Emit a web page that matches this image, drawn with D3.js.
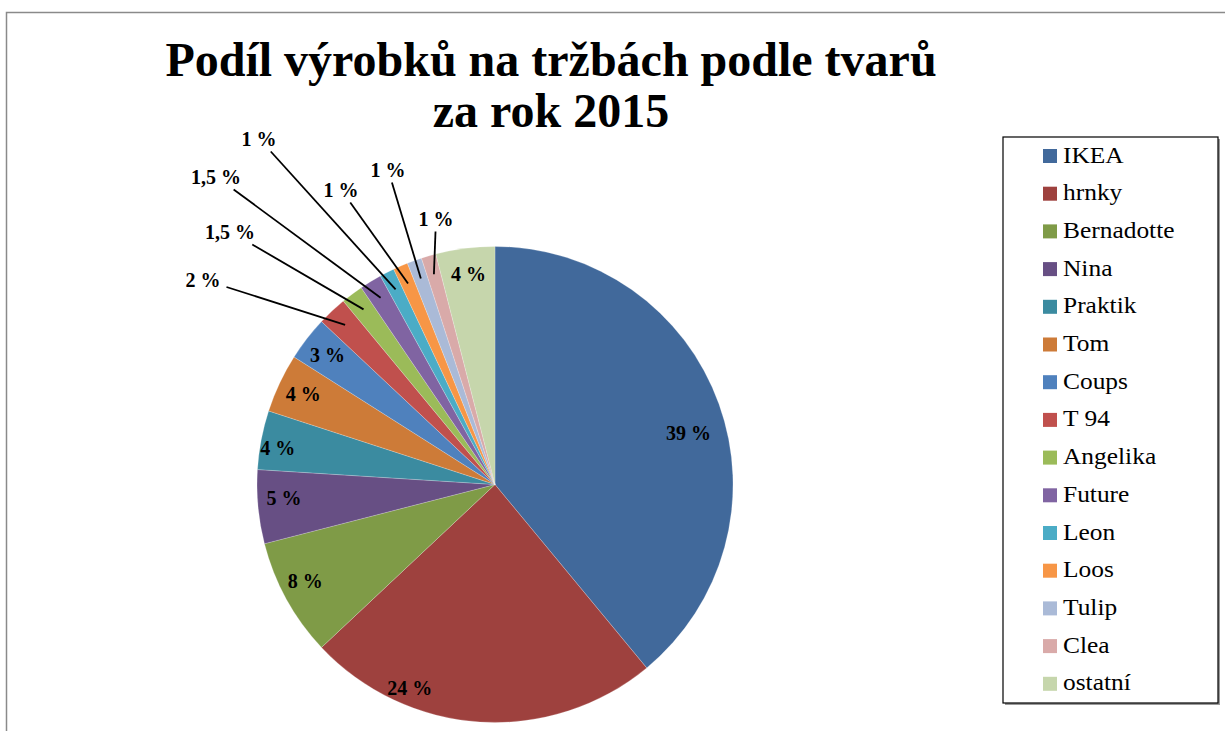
<!DOCTYPE html>
<html>
<head>
<meta charset="utf-8">
<script src="https://cdn.jsdelivr.net/npm/d3@7"></script>
<style>
  body { margin: 0; background: #fff; }
</style>
</head>
<body>
<div id="chart"></div>
<script>
var names  = ["IKEA", "hrnky", "Bernadotte", "Nina", "Praktik", "Tom", "Coups", "T 94",
              "Angelika", "Future", "Leon", "Loos", "Tulip", "Clea", "ostatní"];
var shares = [39, 24, 8, 5, 4, 4, 3, 2, 1.5, 1.5, 1, 1, 1, 1, 4];
var labels = ["39 %", "24 %", "8 %", "5 %", "4 %", "4 %", "3 %", "2 %",
              "1,5 %", "1,5 %", "1 %", "1 %", "1 %", "1 %", "4 %"];
var colors = ["#41699b", "#9e413e", "#7f9b47", "#674f84", "#3b8ba0", "#cd7b38", "#4f81bd", "#c0504d",
              "#9bbb59", "#8064a2", "#4bacc6", "#f79646", "#aabad7", "#d9aaa9", "#c6d6ac"];
var titleLines = ["Podíl výrobků na tržbách podle tvarů", "za rok 2015"];

// thin slices get their label pulled out (offset from pie centre, in px)
var callouts = {
  "T 94":     [-292, -205],
  "Angelika": [-265, -253],
  "Future":   [-279, -308],
  "Leon":     [-236, -346],
  "Loos":     [-154, -295],
  "Tulip":    [-107, -315],
  "Clea":     [-59,  -266]
};
// hand nudges for a few inside labels (Excel did not centre them)
var labelNudge = {
  "IKEA":       [-6, 20],
  "hrnky":      [-72, -8],
  "Bernadotte": [-4, -6],
  "Nina":       [0, -6],
  "Praktik":    [-9, 3]
};

var FONT = "'Liberation Serif'";
var W = 1225, H = 731;
var cx = 495, cy = 484.5, radius = 238;

var svg = d3.select("#chart").append("svg")
    .attr("width", W)
    .attr("height", H);

// chart area border (runs off the picture right and bottom)
svg.append("rect")
    .attr("x", 6.5).attr("y", 12.5)
    .attr("width", W + 20).attr("height", H + 20)
    .attr("fill", "#fff")
    .attr("stroke", "#8a8a8a")
    .attr("stroke-width", 1.5);

// title
svg.selectAll("text.title")
  .data(titleLines)
  .enter().append("text")
    .attr("class", "title")
    .attr("x", 551)
    .attr("y", function(d, i) { return 76 + i * 51; })
    .attr("text-anchor", "middle")
    .attr("font-family", FONT)
    .attr("font-size", 48)
    .attr("font-weight", "bold")
    .text(function(d) { return d; });

var data = names.map(function(n, i) {
  return { name: n, value: shares[i], label: labels[i], color: colors[i] };
});

var pie = d3.pie()
    .sort(null)
    .value(function(d) { return d.value; });

var arcs = pie(data);

var arc = d3.arc().innerRadius(0).outerRadius(radius);
var labelArc = d3.arc().innerRadius(212).outerRadius(212);
var pointArc = d3.arc().innerRadius(radius * 0.92).outerRadius(radius * 0.92);

var g = svg.append("g").attr("transform", "translate(" + cx + "," + cy + ")");

g.selectAll("path.slice")
  .data(arcs)
  .enter().append("path")
    .attr("class", "slice")
    .attr("d", arc)
    .attr("fill", function(d) { return d.data.color; })
    .attr("stroke", "#ffffff")
    .attr("stroke-opacity", 0.35)
    .attr("stroke-width", 0.6);

// labels inside the slices
g.selectAll("text.inside")
  .data(arcs.filter(function(d) { return !callouts[d.data.name]; }))
  .enter().append("text")
    .attr("class", "inside")
    .attr("transform", function(d) {
      var c = labelArc.centroid(d);
      var n = labelNudge[d.data.name] || [0, 0];
      return "translate(" + (c[0] + n[0]) + "," + (c[1] + n[1]) + ")";
    })
    .attr("text-anchor", "middle")
    .attr("dy", "0.35em")
    .attr("font-family", FONT)
    .attr("font-size", 20)
    .attr("font-weight", "bold")
    .text(function(d) { return d.data.label; });

// labels outside with leader lines
var outer = arcs.filter(function(d) { return callouts[d.data.name]; });

var outTexts = g.selectAll("text.outside")
  .data(outer)
  .enter().append("text")
    .attr("class", "outside")
    .attr("x", function(d) { return callouts[d.data.name][0]; })
    .attr("y", function(d) { return callouts[d.data.name][1]; })
    .attr("text-anchor", "middle")
    .attr("dy", "0.35em")
    .attr("font-family", FONT)
    .attr("font-size", 20)
    .attr("font-weight", "bold")
    .text(function(d) { return d.data.label; });

outTexts.each(function(d) {
  var bb = this.getBBox();
  var lx = bb.x + bb.width / 2, ly = bb.y + bb.height / 2;
  var end = pointArc.centroid(d);
  var dx = end[0] - lx, dy = end[1] - ly;
  var hw = bb.width / 2 + 6, hh = bb.height / 2 + 2;
  var t = Math.min(hw / Math.abs(dx), hh / Math.abs(dy));
  g.append("line")
    .attr("x1", lx + t * dx).attr("y1", ly + t * dy)
    .attr("x2", end[0]).attr("y2", end[1])
    .attr("stroke", "#000")
    .attr("stroke-width", 1.8);
});

// legend
var legX = 1003, legY = 137, legW = 215, legH = 566, rowH = 37.7;

svg.append("rect")
    .attr("x", legX + 2).attr("y", legY + 2)
    .attr("width", legW).attr("height", legH)
    .attr("fill", "#9a9a9a");
svg.append("rect")
    .attr("x", legX).attr("y", legY)
    .attr("width", legW).attr("height", legH)
    .attr("fill", "#fff")
    .attr("stroke", "#000")
    .attr("stroke-width", 1.2);

var rows = svg.selectAll("g.leg")
  .data(data)
  .enter().append("g")
    .attr("class", "leg")
    .attr("transform", function(d, i) { return "translate(" + (legX + 40) + "," + (legY + 12 + i * rowH) + ")"; });

rows.append("rect")
    .attr("width", 14).attr("height", 14)
    .attr("fill", function(d) { return d.color; });

rows.append("text")
    .attr("transform", "translate(20,13.5) scale(1.13,1)")
    .attr("font-family", FONT)
    .attr("font-size", 22.5)
    .attr("fill", "#000")
    .text(function(d) { return d.name; });
</script>
</body>
</html>
